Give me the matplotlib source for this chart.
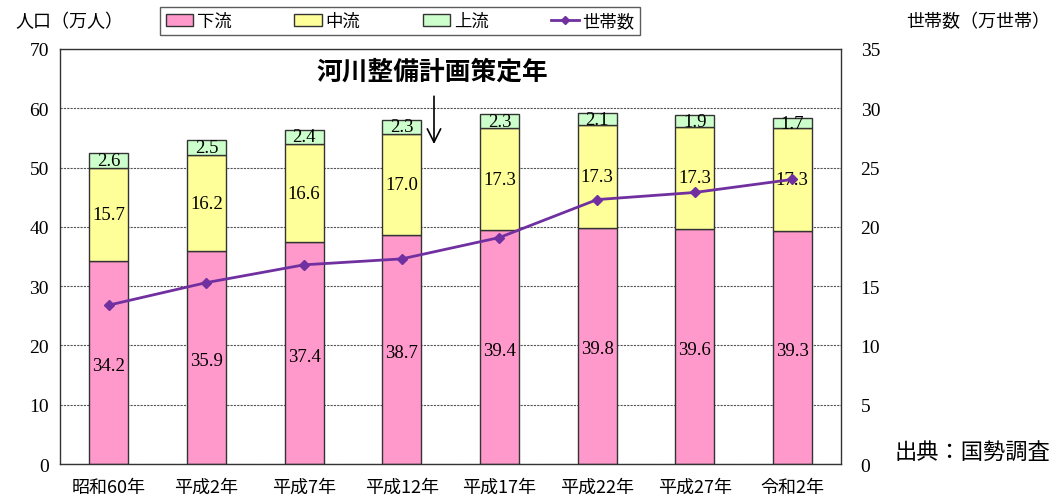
import matplotlib
matplotlib.use("Agg")
import matplotlib.pyplot as plt
import numpy as np
from matplotlib.patches import Patch
from matplotlib.lines import Line2D

years = ["昭和60年", "平成2年", "平成7年", "平成12年", "平成17年", "平成22年", "平成27年", "令和2年"]
downstream = [34.2, 35.9, 37.4, 38.7, 39.4, 39.8, 39.6, 39.3]
midstream = [15.7, 16.2, 16.6, 17.0, 17.3, 17.3, 17.3, 17.3]
upstream = [2.6, 2.5, 2.4, 2.3, 2.3, 2.1, 1.9, 1.7]
households = [13.4, 15.3, 16.8, 17.3, 19.1, 22.3, 22.9, 24.0]

JP = ["Noto Sans CJK JP", "DejaVu Sans"]
NUM = ["Liberation Serif", "Noto Sans CJK JP"]

fig = plt.figure(figsize=(10.57, 5.02), dpi=100)
ax = fig.add_axes([0.0568, 0.0737, 0.7390, 0.8267])
ax2 = ax.twinx()

x = np.arange(len(years))
w = 0.4
c_down, c_mid, c_up = "#FF99CC", "#FFFF99", "#CCFFCC"
kw = dict(width=w, edgecolor="#333333", linewidth=1.0, zorder=2)
ax.bar(x, downstream, color=c_down, **kw)
ax.bar(x, midstream, bottom=downstream, color=c_mid, **kw)
bot3 = np.array(downstream) + np.array(midstream)
ax.bar(x, upstream, bottom=bot3, color=c_up, **kw)

for i in range(len(years)):
    ax.text(x[i], downstream[i] / 2 - 0.5, f"{downstream[i]:.1f}", ha="center", va="center",
            fontsize=13.5, family=NUM, zorder=5)
    ax.text(x[i], downstream[i] + midstream[i] / 2, f"{midstream[i]:.1f}", ha="center", va="center",
            fontsize=13.5, family=NUM, zorder=5)
    ax.text(x[i], bot3[i] + upstream[i] / 2, f"{upstream[i]:.1f}", ha="center", va="center",
            fontsize=13.5, family=NUM, zorder=5)

ax.set_xlim(-0.5, len(years) - 0.5)
ax.set_ylim(0, 70)
ax.set_yticks(range(0, 71, 10))
ax.yaxis.grid(True, linestyle=(0, (2, 1)), color="#555555", linewidth=0.8)
ax.set_axisbelow(True)
ax.set_xticks(x)
ax.set_xticklabels(years, family=JP, fontsize=13)
ax.tick_params(axis="y", length=0, pad=8)
ax.tick_params(axis="x", length=0, pad=10)
for lab in ax.get_yticklabels():
    lab.set_family(NUM)
    lab.set_fontsize(14)
for s in ax.spines.values():
    s.set_color("#333333")
    s.set_linewidth(1.0)

ax2.plot(x, households, color="#7030A0", marker="D", markersize=5, linewidth=2, zorder=6)
ax2.set_ylim(0, 35)
ax2.set_yticks(range(0, 36, 5))
ax2.tick_params(axis="y", length=0, pad=14)
for lab in ax2.get_yticklabels():
    lab.set_family(NUM)
    lab.set_fontsize(14)
for s in ax2.spines.values():
    s.set_visible(False)
ax.set_zorder(ax2.get_zorder() - 1)
ax.patch.set_visible(True)
ax2.patch.set_visible(False)

# Axis titles and source note
fig.text(15 / 1057, 1 - 22 / 502, "人口（万人）", family=JP, fontsize=13, va="center", ha="left")
fig.text(1050 / 1057, 1 - 22 / 502, "世帯数（万世帯）", family=JP, fontsize=13, va="center", ha="right")
fig.text(1050 / 1057, 1 - 452 / 502, "出典：国勢調査", family=JP, fontsize=16,
         va="center", ha="right")

# Plan formulation annotation
ax.annotate("", xy=(3.33, 53.5), xytext=(3.33, 62.5),
            arrowprops=dict(arrowstyle="->", color="black", lw=1.2, mutation_scale=24))
ax.text(3.31, 66.3, "河川整備計画策定年", family=JP, fontsize=18.5, fontweight="bold",
        ha="center", va="center")

# Legend
handles = [Patch(facecolor=c_down, edgecolor="#333333"),
           Patch(facecolor=c_mid, edgecolor="#333333"),
           Patch(facecolor=c_up, edgecolor="#333333"),
           Line2D([0], [0], color="#7030A0", marker="D", markersize=4, linewidth=2)]
leg = fig.legend(handles, ["下流", "中流", "上流", "世帯数"], loc="center",
                 bbox_to_anchor=(400 / 1057, 1 - 22 / 502), ncol=4, frameon=True,
                 prop={"family": JP, "size": 12.5}, fancybox=False, edgecolor="#333333",
                 handlelength=1.6, handletextpad=0.2, columnspacing=3.6, borderpad=0.3,
                 borderaxespad=0)
leg.get_frame().set_linewidth(1.0)

fig.savefig("out.png", dpi=100)
